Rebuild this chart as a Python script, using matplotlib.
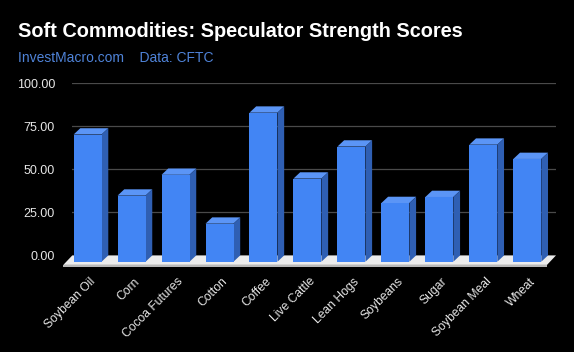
import matplotlib
matplotlib.use("Agg")
import matplotlib.pyplot as plt
import matplotlib.transforms as mtrans
from matplotlib.patches import Polygon

categories = ["Soybean Oil", "Corn", "Cocoa Futures", "Cotton", "Coffee", "Live Cattle",
              "Lean Hogs", "Soybeans", "Sugar", "Soybean Meal", "Wheat"]
values = [73.9, 38.4, 50.5, 22.1, 86.6, 48.3, 66.9, 34.1, 37.6, 68.0, 59.7]
yticks = [0, 25, 50, 75, 100]
ytick_labels = ["0.00", "25.00", "50.00", "75.00", "100.00"]

title = "Soft Commodities: Speculator Strength Scores"
subtitle = "InvestMacro.com    Data: CFTC"

plt.rcParams['font.family'] = ['Liberation Sans', 'DejaVu Sans']

W, H = 574, 352
fig = plt.figure(figsize=(W / 100, H / 100), dpi=100, facecolor="black")

left_px, right_px = 72.3, 556.0
top_px, bottom_px = 83.3, 255.4
ax = fig.add_axes([left_px / W, 1 - bottom_px / H, (right_px - left_px) / W, (bottom_px - top_px) / H])
ax.set_facecolor("black")
n = len(categories)
ax.set_xlim(-0.5, n - 0.5)
ax.set_ylim(0, 100)

px_x = (n) / (right_px - left_px)      # data units per px in x
px_y = 100 / (bottom_px - top_px)      # data units per px in y

# gridlines on back wall
for t in yticks[1:]:
    ax.axhline(t, color="#4a4a4a", lw=0.9, zorder=1)

# floor
fdx, fdy = 9 * px_x, 9.5 * px_y
floor = Polygon([(-0.5, 0), (n - 0.5, 0), (n - 0.5 - fdx, -fdy), (-0.5 - fdx, -fdy)],
                closed=True, facecolor="#ececec", edgecolor="none", zorder=2, clip_on=False)
ax.add_patch(floor)
edge = Polygon([(-0.5 - fdx, -fdy), (n - 0.5 - fdx, -fdy), (n - 0.5 - fdx, -fdy - 1.8 * px_y),
                (-0.5 - fdx, -fdy - 1.8 * px_y)],
               closed=True, facecolor="#b8b8b8", edgecolor="none", zorder=2, clip_on=False)
ax.add_patch(edge)

# bars
dx, dy = 6.7 * px_x, 6.3 * px_y
w = 28 * px_x
front_c, top_c, side_c = "#4285f4", "#5b95f6", "#2f5fb3"
for i, v in enumerate(values):
    xl = i - w / 2 - dx
    xr = xl + w
    fb, ft = -dy, v - dy
    ax.add_patch(Polygon([(xl, fb), (xr, fb), (xr, ft), (xl, ft)], closed=True,
                         facecolor=front_c, edgecolor="none", zorder=4, clip_on=False))
    ax.add_patch(Polygon([(xl, ft), (xr, ft), (xr + dx, v), (xl + dx, v)], closed=True,
                         facecolor=top_c, edgecolor="none", zorder=3, clip_on=False))
    ax.add_patch(Polygon([(xr, fb), (xr + dx, 0), (xr + dx, v), (xr, ft)], closed=True,
                         facecolor=side_c, edgecolor="none", zorder=3, clip_on=False))

for s in ax.spines.values():
    s.set_visible(False)

ax.set_yticks(yticks)
ax.set_yticklabels(ytick_labels, color="#e6e6e6", fontsize=9)
ax.tick_params(axis="y", length=0, pad=12.5)

ax.set_xticks(range(n))
ax.set_xticklabels(categories, rotation=45, ha="right", va="top", rotation_mode="anchor",
                   color="#e6e6e6", fontsize=8.7)
ax.tick_params(axis="x", length=0, pad=14.5)
shift = mtrans.ScaledTranslation(-5 / 100, 0, fig.dpi_scale_trans)
for lab in ax.get_xticklabels():
    lab.set_transform(lab.get_transform() + shift)

fig.text(18 / W, 1 - 37 / H, title, color="white", fontsize=14.3, fontweight="bold",
         ha="left", va="baseline")
fig.text(18 / W, 1 - 62.3 / H, subtitle, color="#4f83d8", fontsize=10,
         ha="left", va="baseline")

fig.savefig("out.png", dpi=100, facecolor="black")
